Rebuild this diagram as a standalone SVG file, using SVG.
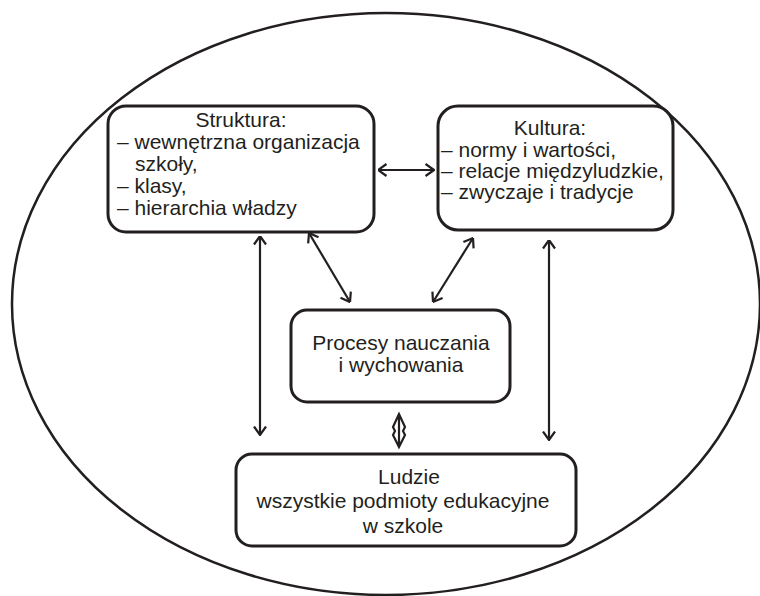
<svg xmlns="http://www.w3.org/2000/svg" width="760" height="596" viewBox="0 0 760 596">
<style>
  .box{fill:#fff;stroke:#231f20;stroke-width:3}
  .t{font-family:"Liberation Sans",Arial,sans-serif;font-size:21px;fill:#231f20}
  .c{text-anchor:middle}
  .ar{fill:none;stroke:#231f20;stroke-width:2.2}
</style>
<defs>
  <marker id="ah" viewBox="0 0 10 14" refX="9.5" refY="7" markerWidth="10" markerHeight="14" markerUnits="userSpaceOnUse" orient="auto-start-reverse">
    <path d="M1,1 L9.5,7 L1,13" fill="none" stroke="#231f20" stroke-width="2.2"/>
  </marker>
</defs>
<rect width="760" height="596" fill="#fff"/>
<ellipse id="outer" cx="386" cy="304" rx="374" ry="291" fill="none" stroke="#231f20" stroke-width="2.5"/>
<g id="struktura">
  <rect class="box" x="108" y="106" width="266" height="126" rx="18"/>
  <text class="t c" x="241" y="127">Struktura:</text>
  <text class="t" x="117" y="149">– wewnętrzna organizacja</text>
  <text class="t" x="135" y="171">szkoły,</text>
  <text class="t" x="117" y="193">– klasy,</text>
  <text class="t" x="117" y="215">– hierarchia władzy</text>
</g>
<g id="kultura">
  <rect class="box" x="438" y="106" width="235" height="124" rx="20"/>
  <text class="t c" x="550" y="135">Kultura:</text>
  <text class="t" x="441" y="157">– normy i wartości,</text>
  <text class="t" x="441" y="178">– relacje międzyludzkie,</text>
  <text class="t" x="441" y="199">– zwyczaje i tradycje</text>
</g>
<g id="procesy">
  <rect class="box" x="291" y="310" width="219" height="92" rx="16"/>
  <text class="t c" x="401" y="350">Procesy nauczania</text>
  <text class="t c" x="401" y="372">i wychowania</text>
</g>
<g id="ludzie">
  <rect class="box" x="236" y="454" width="340" height="92" rx="16"/>
  <text class="t c" x="409" y="484">Ludzie</text>
  <text class="t c" x="403" y="508">wszystkie podmioty edukacyjne</text>
  <text class="t c" x="403" y="533">w szkole</text>
</g>
<g id="connectors">
  <line class="ar" x1="378" y1="170" x2="434" y2="170" marker-start="url(#ah)" marker-end="url(#ah)"/>
  <line class="ar" x1="260" y1="236" x2="260" y2="435" marker-start="url(#ah)" marker-end="url(#ah)"/>
  <line class="ar" x1="549" y1="240" x2="549" y2="440" marker-start="url(#ah)" marker-end="url(#ah)"/>
  <line class="ar" x1="309" y1="233" x2="350" y2="302" marker-start="url(#ah)" marker-end="url(#ah)"/>
  <line class="ar" x1="473" y1="238" x2="433" y2="302" marker-start="url(#ah)" marker-end="url(#ah)"/>
  <path class="ar" d="M399,414 L393,427 L395,431 L393,435 L399,447 L405,435 L403,431 L405,427 Z M399,414 L399,447"/>
</g>
</svg>
